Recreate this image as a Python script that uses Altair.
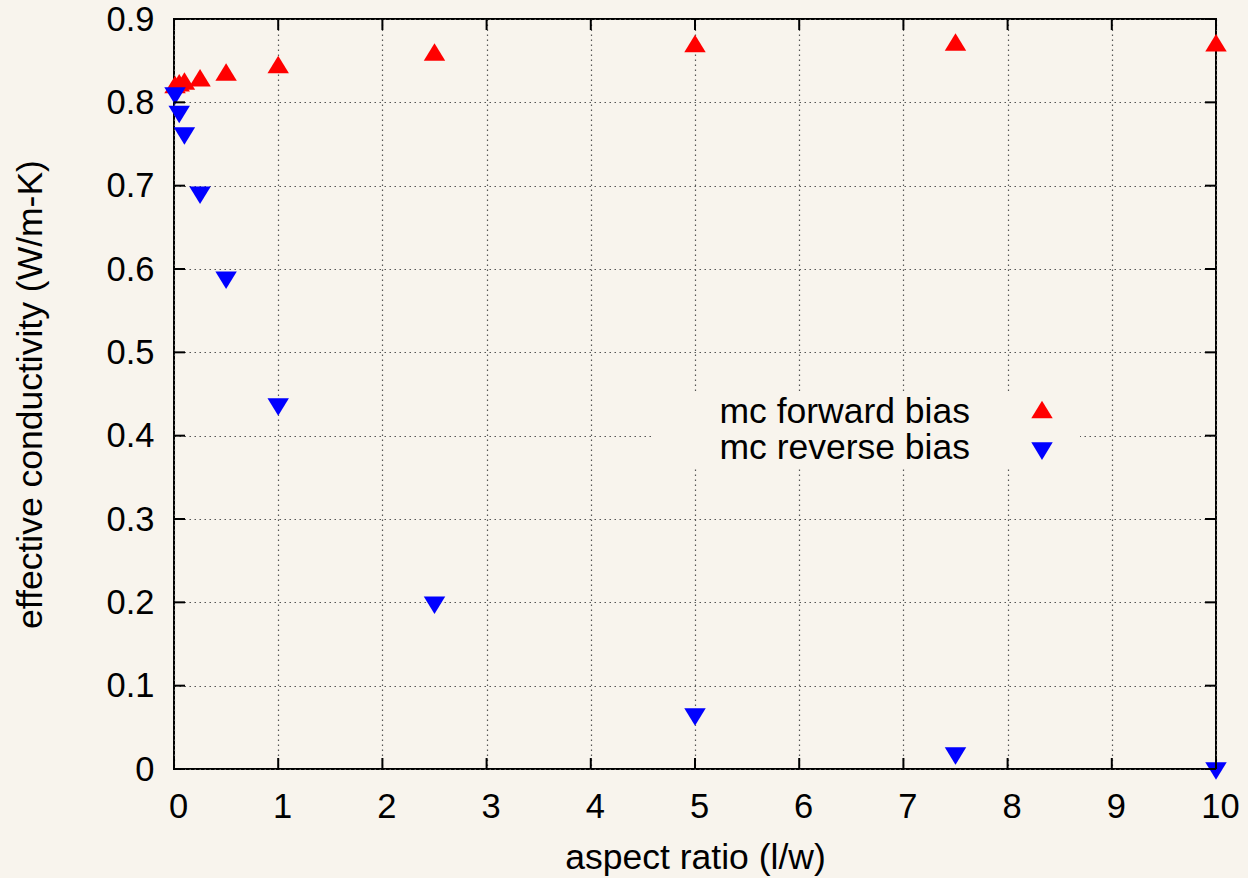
import altair as alt
import pandas as pd

# Monte Carlo effective conductivity against aspect ratio
aspect_ratio = [0.01, 0.05, 0.1, 0.25, 0.5, 1, 2.5, 5, 7.5, 10]
forward_bias = [0.818, 0.820, 0.822, 0.826, 0.833, 0.842, 0.857, 0.867, 0.869, 0.868]
reverse_bias = [0.811, 0.789, 0.763, 0.692, 0.590, 0.438, 0.200, 0.066, 0.019, 0.001]

series_names = ["mc forward bias", "mc reverse bias"]
x_ticks = [0, 1, 2, 3, 4, 5, 6, 7, 8, 9, 10]
y_ticks = [0, 0.1, 0.2, 0.3, 0.4, 0.5, 0.6, 0.7, 0.8, 0.9]

BG = "#f8f4ed"
FONT = "Liberation Sans"
W, H = 1042, 750
TICK = 11
LABEL_FS = 34.5
TEXT_FS = 35.5

# triangles anchored on their centroid
UP = "M0,-1.09L1,0.545L-1,0.545Z"
DOWN = "M0,1.09L1,-0.545L-1,-0.545Z"
SIZE = 460

fwd = pd.DataFrame({"x": aspect_ratio, "y": forward_bias})
rev = pd.DataFrame({"x": aspect_ratio, "y": reverse_bias})
xt = pd.DataFrame({"x": x_ticks})
yt = pd.DataFrame({"y": y_ticks})
one = pd.DataFrame({"k": [0]})

x_scale = alt.Scale(domain=[0, 10], nice=False, zero=False)
y_scale = alt.Scale(domain=[0, 0.9], nice=False, zero=False)

x_axis = alt.Axis(
    values=x_ticks, format="d", title="aspect ratio (l/w)", labelFlush=False,
    labelPadding=21, labelOffset=4, titleY=99, titleBaseline="alphabetic",
)
y_axis = alt.Axis(
    values=y_ticks, labelExpr="format(datum.value, '.1~f')", labelFlush=False,
    title="effective conductivity (W/m-K)", labelPadding=20, labelOffset=1,
    titleX=-133, titleY=H / 2, titleAngle=270, titleAlign="center",
    titleBaseline="alphabetic",
)

base_x = alt.X("x:Q", scale=x_scale, axis=x_axis)
base_y = alt.Y("y:Q", scale=y_scale, axis=y_axis)

# points (the first layer carries the axes)
forward = alt.Chart(fwd).mark_point(
    shape=UP, filled=True, size=SIZE, color="#ff0000", opacity=1, strokeWidth=0
).encode(x=base_x, y=base_y)

reverse = alt.Chart(rev).mark_point(
    shape=DOWN, filled=True, size=SIZE, color="#0000ff", opacity=1, strokeWidth=0
).encode(x="x:Q", y="y:Q")

# inward tick marks on all four sides
rule_style = dict(color="black", strokeWidth=2)
tick_bottom = alt.Chart(xt).mark_rule(**rule_style).encode(
    x="x:Q", y=alt.value(H), y2=alt.value(H - TICK))
tick_top = alt.Chart(xt).mark_rule(**rule_style).encode(
    x="x:Q", y=alt.value(0), y2=alt.value(TICK))
tick_left = alt.Chart(yt).mark_rule(**rule_style).encode(
    y="y:Q", x=alt.value(0), x2=alt.value(TICK))
tick_right = alt.Chart(yt).mark_rule(**rule_style).encode(
    y="y:Q", x=alt.value(W), x2=alt.value(W - TICK))

# opaque key box
key_box = alt.Chart(one).mark_rect(color=BG).encode(
    x=alt.value(478), x2=alt.value(906), y=alt.value(374), y2=alt.value(449))

key_layers = []
for name, shape, color, ty, sy in [
    (series_names[0], UP, "#ff0000", 404, 393.4),
    (series_names[1], DOWN, "#0000ff", 440, 429.2),
]:
    key_layers.append(
        alt.Chart(pd.DataFrame({"label": [name]})).mark_text(
            align="right", baseline="alphabetic", font=FONT, fontSize=TEXT_FS, color="black"
        ).encode(text="label:N", x=alt.value(796), y=alt.value(ty))
    )
    key_layers.append(
        alt.Chart(one).mark_point(
            shape=shape, filled=True, size=SIZE, color=color, opacity=1, strokeWidth=0
        ).encode(x=alt.value(868), y=alt.value(sy))
    )

chart = alt.layer(
    forward, key_box, reverse, tick_bottom, tick_top, tick_left, tick_right, *key_layers
).properties(
    width=W, height=H,
    autosize=alt.AutoSizeParams(type="none"),
    padding={"left": 174, "top": 19, "right": 32, "bottom": 109},
    background=BG,
).configure_view(
    stroke="black", strokeWidth=2, fill=None,
).configure_axis(
    domain=False, ticks=False, tickSize=0, grid=True,
    gridColor="#555555", gridDash=[1.5, 3.5], gridWidth=1.2, gridOpacity=1,
    labelFont=FONT, labelFontSize=LABEL_FS, labelColor="black",
    titleFont=FONT, titleFontSize=TEXT_FS, titleFontWeight="normal", titleColor="black",
)

chart.save("out.html", embed_options={"renderer": "svg", "actions": False})
